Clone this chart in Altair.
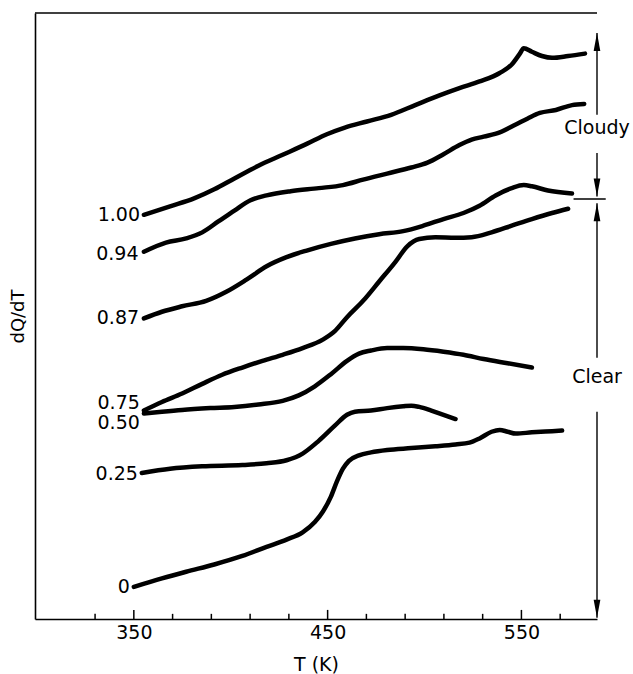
import altair as alt
import pandas as pd

FONT = "DejaVu Sans"

# ---- curve data (T in K, dQ/dT in arbitrary units) ----
series_names = ["1.00", "0.94", "0.87", "0.75", "0.50", "0.25", "0"]

t_100 = [355.2, 368.7, 381.1, 391.5, 401.9, 414.3, 426.8, 439.2, 449.6, 458.9, 470.3, 482.8, 495.2,
         507.7, 518.0, 528.4, 538.8, 545.0, 549.2, 551.2, 555.4, 560.6, 565.8, 574.1, 582.8]
v_100 = [66.7, 68.1, 69.4, 70.9, 72.7, 74.8, 76.6, 78.4, 80.0, 81.1, 82.1, 83.2, 84.8,
         86.4, 87.6, 88.7, 90.1, 91.5, 93.3, 94.2, 93.6, 92.9, 92.6, 92.9, 93.3]

t_094 = [355.2, 366.6, 377.0, 385.3, 393.6, 401.9, 410.2, 418.5, 430.9, 445.4, 457.9, 468.3, 480.7,
         493.2, 501.5, 509.8, 518.0, 524.3, 530.5, 538.8, 547.1, 553.3, 559.5, 567.8, 576.1, 582.4]
v_094 = [60.6, 62.1, 62.8, 63.8, 65.6, 67.4, 69.1, 69.9, 70.6, 71.1, 71.6, 72.5, 73.5,
         74.5, 75.3, 76.7, 78.2, 79.1, 79.6, 80.3, 81.6, 82.6, 83.5, 84.0, 84.8, 85.0]

t_087 = [355.2, 364.5, 374.9, 387.3, 397.7, 408.1, 418.5, 428.8, 439.2, 451.7, 464.1, 476.6, 489.0,
         499.4, 509.8, 520.1, 528.4, 536.7, 545.0, 551.2, 555.4, 563.7, 576.1]
v_087 = [49.6, 50.7, 51.6, 52.5, 54.0, 56.0, 58.2, 59.7, 60.8, 61.9, 62.8, 63.5, 64.0,
         64.9, 66.0, 67.0, 68.2, 69.9, 71.1, 71.6, 71.4, 70.7, 70.2]

t_075 = [355.2, 364.5, 374.9, 385.3, 395.6, 406.0, 416.4, 426.8, 437.1, 447.5, 453.7, 460.0, 468.3,
         476.6, 484.9, 491.1, 497.3, 505.6, 516.0, 524.3, 534.6, 545.0, 555.4, 565.8, 574.1]
v_075 = [34.4, 35.8, 37.2, 38.8, 40.3, 41.5, 42.6, 43.6, 44.7, 46.1, 47.5, 49.8, 52.5,
         55.7, 58.9, 61.5, 62.7, 63.0, 62.9, 63.0, 63.8, 64.9, 66.0, 67.0, 67.7]

t_050 = [355.2, 364.5, 374.9, 389.4, 401.9, 414.3, 426.8, 435.1, 443.4, 451.7, 460.0, 466.2, 472.4,
         480.7, 489.0, 499.4, 509.8, 520.1, 530.5, 542.9, 555.4]
v_050 = [33.9, 34.2, 34.5, 34.8, 35.0, 35.4, 36.0, 36.9, 38.4, 40.4, 42.6, 43.8, 44.3,
         44.7, 44.7, 44.5, 44.1, 43.6, 42.9, 42.2, 41.5]

t_025 = [354.1, 368.7, 385.3, 406.0, 418.5, 428.8, 437.1, 445.4, 453.7, 460.0, 464.1, 472.4, 480.7,
         489.0, 493.2, 497.3, 503.5, 509.8, 516.0]
v_025 = [24.1, 24.8, 25.2, 25.4, 25.7, 26.2, 27.3, 29.4, 31.9, 33.7, 34.2, 34.4, 34.8,
         35.1, 35.2, 35.0, 34.4, 33.7, 33.0]

t_000 = [350.0, 364.5, 377.0, 391.5, 406.0, 418.5, 428.8, 437.1, 443.4, 447.5, 451.7, 454.8, 457.9,
         461.0, 466.2, 472.4, 480.7, 493.2, 505.6, 516.0, 523.2, 528.4, 534.6, 538.8, 542.9, 547.1,
         555.4, 565.8, 571.0]
v_000 = [5.3, 6.7, 7.8, 9.0, 10.4, 11.9, 13.1, 14.3, 16.0, 17.7, 20.2, 22.7, 24.8,
         26.1, 27.0, 27.5, 27.9, 28.2, 28.5, 28.8, 29.1, 29.8, 30.9, 31.2, 30.9, 30.6,
         30.8, 31.0, 31.1]

# curve labels (right end of text)
label_t = [353.2, 352.4, 352.7, 353.1, 353.1, 352.1, 348.0]
label_v = [66.7, 60.3, 49.6, 35.6, 32.3, 23.9, 5.3]

# axis ticks
tick_values = [330, 350, 370, 390, 410, 430, 450, 470, 490, 510, 530, 550, 570]
major_ticks = [350, 450, 550]

# right-hand range arrows
arrow_seg_top = [96.7, 76.9, 68.6, 34.2]
arrow_seg_bot = [83.2, 69.7, 43.1, 0.2]
arrow_up_tips = [96.7, 68.6]
arrow_down_tips = [69.7, 0.2]
range_names = ["Cloudy", "Clear"]
range_v = [81.0, 39.9]
divider_v = 69.3
divider_t = [576.9, 593.5]

T_MIN, T_MAX = 299.0, 589.0
X_RIGHT = 589.0

# ---- tables ----
rows = []
for name, ts, vs in zip(series_names,
                        [t_100, t_094, t_087, t_075, t_050, t_025, t_000],
                        [v_100, v_094, v_087, v_075, v_050, v_025, v_000]):
    for i, (t, v) in enumerate(zip(ts, vs)):
        rows.append({"series": name, "T": t, "v": v, "i": i})
curves = pd.DataFrame(rows)
labels_df = pd.DataFrame({"label": series_names, "T": label_t, "v": label_v})
ticks_df = pd.DataFrame({"T": tick_values, "base": [0.0] * len(tick_values),
                         "top": [1.5 if t in major_ticks else 0.85 for t in tick_values]})
hlines_df = pd.DataFrame({"T1": [T_MIN, divider_t[0]], "T2": [X_RIGHT, divider_t[1]],
                          "v": [100.0, divider_v], "w": [1.6, 1.4]})
segs_df = pd.DataFrame({"T": [X_RIGHT] * len(arrow_seg_top), "v1": arrow_seg_top, "v2": arrow_seg_bot})
up_df = pd.DataFrame({"T": [X_RIGHT] * len(arrow_up_tips), "v": arrow_up_tips})
down_df = pd.DataFrame({"T": [X_RIGHT] * len(arrow_down_tips), "v": arrow_down_tips})
ranges_df = pd.DataFrame({"T": [X_RIGHT] * len(range_names), "name": range_names, "v": range_v})

xscale = alt.Scale(domain=[T_MIN, T_MAX], nice=False, zero=False)
yscale = alt.Scale(domain=[0, 100], nice=False, zero=False)

x_axis = alt.Axis(values=major_ticks, format="d", ticks=False, grid=False, domain=True,
                  domainColor="black", domainWidth=1.6, labelFont=FONT, labelFontSize=19,
                  labelColor="black", labelPadding=4, title="T (K)", titleFont=FONT,
                  titleFontSize=19, titleFontWeight="normal", titleColor="black", titlePadding=13)
y_axis = alt.Axis(labels=False, ticks=False, grid=False, domain=True, domainColor="black",
                  domainWidth=1.6, title="dQ/dT", titleFont=FONT, titleFontSize=18,
                  titleFontWeight="normal", titleColor="black", titlePadding=8)

X = alt.X("T:Q", scale=xscale, axis=x_axis)
Y = alt.Y("v:Q", scale=yscale, axis=y_axis)

lines = alt.Chart(curves).mark_line(
    color="black", strokeWidth=4.5, strokeCap="round", strokeJoin="round", interpolate="monotone"
).encode(x=X, y=Y, detail="series:N", order="i:Q")

labels = alt.Chart(labels_df).mark_text(
    align="right", baseline="middle", font=FONT, fontSize=19, color="black"
).encode(x="T:Q", y="v:Q", text="label:N")

hlines = alt.Chart(hlines_df).mark_rule(color="black", strokeWidth=1.5).encode(
    x="T1:Q", x2="T2:Q", y="v:Q"
)

ticks = alt.Chart(ticks_df).mark_rule(color="black", strokeWidth=1.5).encode(
    x="T:Q", y="base:Q", y2="top:Q"
)

segs = alt.Chart(segs_df).mark_rule(color="black", strokeWidth=1.4).encode(
    x="T:Q", y="v1:Q", y2="v2:Q"
)

up_heads = alt.Chart(up_df).mark_point(
    shape="M0,0L-0.37,2L0.37,2Z", size=324, filled=True, color="black", opacity=1
).encode(x="T:Q", y="v:Q")

down_heads = alt.Chart(down_df).mark_point(
    shape="M0,0L-0.37,-2L0.37,-2Z", size=324, filled=True, color="black", opacity=1
).encode(x="T:Q", y="v:Q")

range_text = alt.Chart(ranges_df).mark_text(
    align="center", baseline="middle", font=FONT, fontSize=19, color="black"
).encode(x="T:Q", y="v:Q", text="name:N")

chart = alt.layer(
    lines, labels, hlines, ticks, segs, up_heads, down_heads, range_text
).properties(
    width=562, height=606,
    autosize=alt.AutoSizeParams(type="none"),
    padding={"left": 35, "top": 13, "right": 36, "bottom": 55},
    background="white",
).configure_view(stroke=None)

chart.save("out.html", embed_options={"renderer": "svg", "actions": False})
